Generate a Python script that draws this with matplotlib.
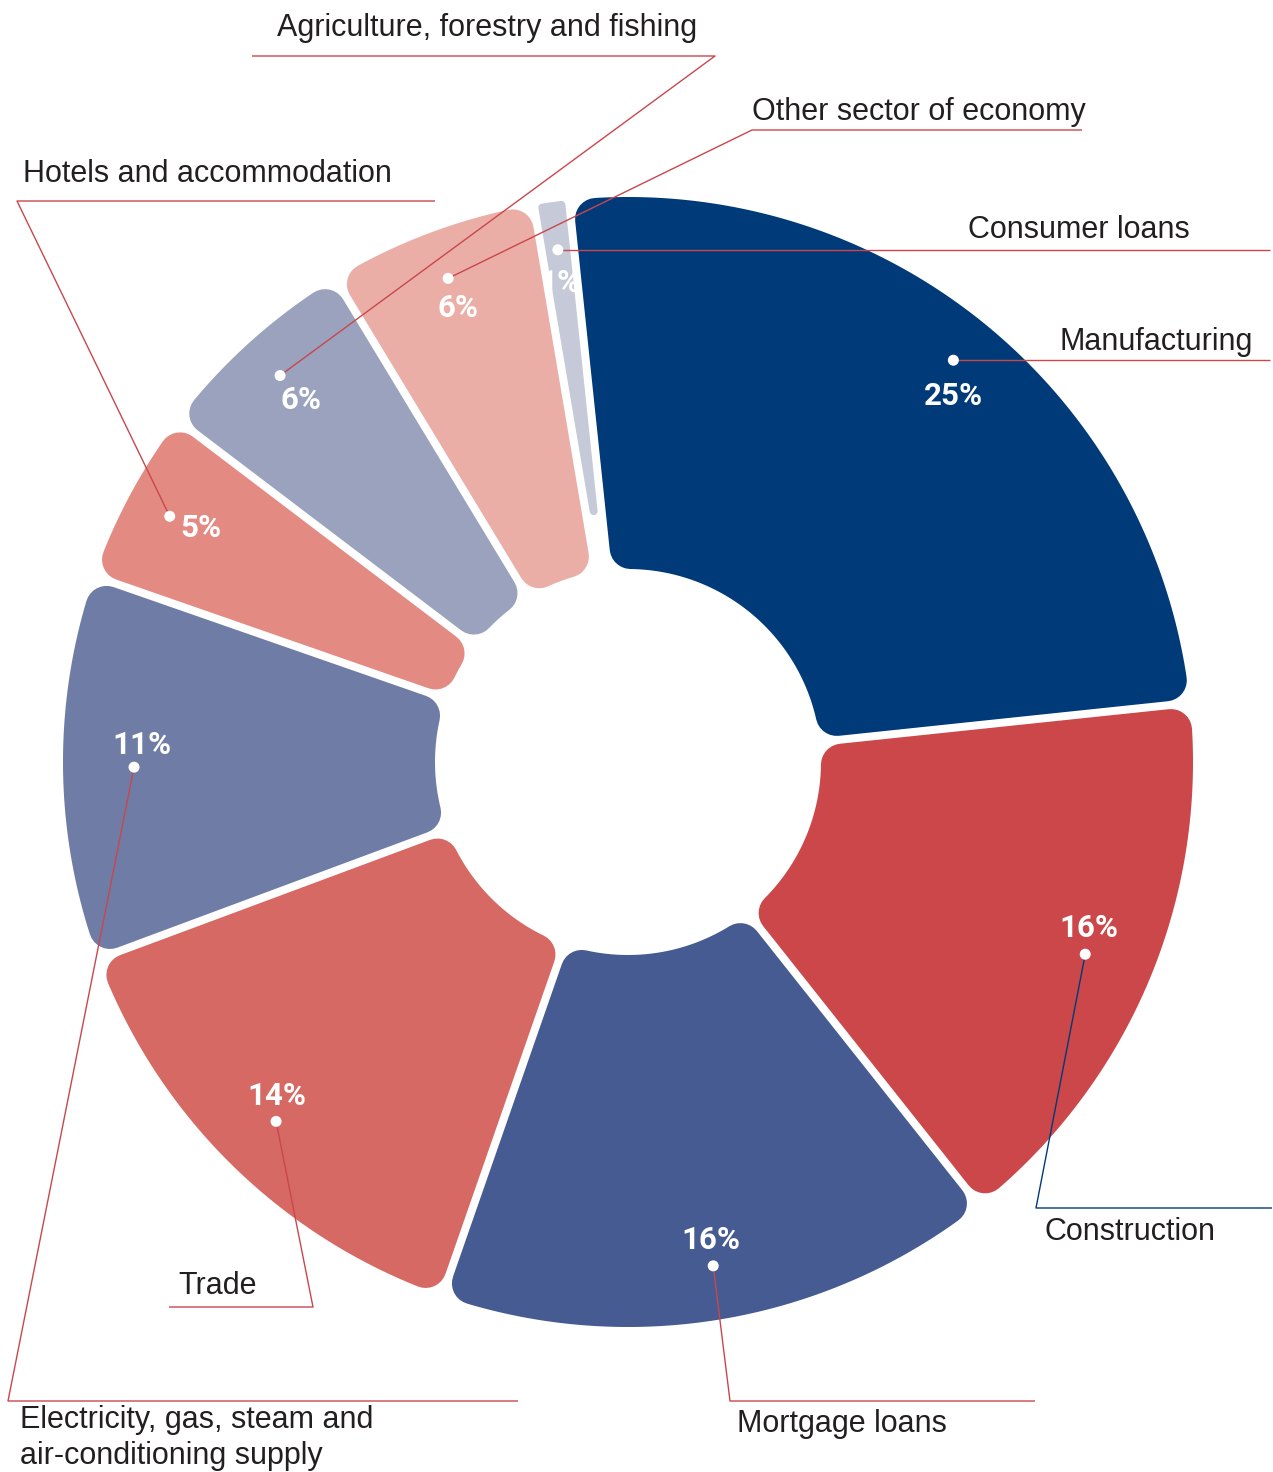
import numpy as np
import matplotlib
matplotlib.use("Agg")
import matplotlib.pyplot as plt
from matplotlib.path import Path
from matplotlib.patches import PathPatch, Circle

# ---- data -------------------------------------------------------------
categories = [
    "Manufacturing",
    "Construction",
    "Mortgage loans",
    "Trade",
    "Electricity, gas, steam and\nair-conditioning supply",
    "Hotels and accommodation",
    "Agriculture, forestry and fishing",
    "Other sector of economy",
    "Consumer loans",
]
shares = [25, 16, 16, 14, 11, 5, 6, 6, 1]
pct_labels = [f"{v}%" for v in shares]

# ---- styling ----------------------------------------------------------
colors = ["#003a78", "#cc474a", "#455b91", "#d66963", "#6f7ca6",
          "#e38a82", "#9aa2bd", "#eaaea7", "#c5c9d8"]
leader_colors = ["#c9474c", "#003a78", "#c9474c", "#c9474c", "#c9474c",
                 "#c9474c", "#c9474c", "#c9474c", "#c9474c"]
text_color = "#231f20"

W, H, DPI = 1273, 1472, 100
cx, cy = 628, 762          # ring centre (pixel units)
r_in, r_out = 193, 565     # ring radii
gap = 8                    # white gap between segments
corner = 21                # corner rounding radius
start_angle = 96           # degrees, segments run clockwise
dot_radii = [517, 496, 511, 503, 494, 520, 520, 516, 517]
PT = 72.0 / DPI            # points per pixel

# label geometry: (elbow, end of underline, text x, text baseline, ha)
# "dot" means the horizontal run starts at the dot itself
label_layout = [
    ("dot", 1270, 1253, -10, "right"),
    ((1036, 1208), (1272, 1208), 1045, 1240, "left"),
    ((730, 1401), (1035, 1401), 737, 1432, "left"),
    ((313, 1307), (169, 1307), 178, 1294, "left"),
    ((8, 1401), (518, 1401), 20, 1428, "left"),
    ((17, 201), (435, 201), 23, 182, "left"),
    ((715, 56), (252, 56), 277, 36, "left"),
    ((752, 130), (1082, 130), 752, 120, "left"),
    ("dot", 1270, 1190, -12, "right"),
]
# percentage text offset from the dot (dx, dy of text centre)
pct_offsets = [(0, 34), (4, -28), (-2, -28), (1, -27), (8, -24),
               (31, 10), (21, 22), (10, 28), (2, 31)]


def to_xy(r, t):
    return cx + r * np.cos(t), cy - r * np.sin(t)


def segment_path(hi_deg, lo_deg, rc):
    """Shrunk outline of one ring segment; stroking it with width 2*rc
    and round joins gives a segment with rounded corners."""
    h = np.radians(hi_deg - lo_deg) / 2
    m = np.radians(hi_deg + lo_deg) / 2
    d = gap / 2 + rc
    ro = r_out - rc
    ri = r_in + rc
    x0 = d / np.sin(h)
    pts = []
    phi_o = h - np.arcsin(min(d / ro, 1.0))
    for t in np.linspace(m + phi_o, m - phi_o, 120):
        pts.append(to_xy(ro, t))
    if ri > x0:
        phi_i = h - np.arcsin(d / ri)
        for t in np.linspace(m - phi_i, m + phi_i, 60):
            pts.append(to_xy(ri, t))
    else:
        pts.append(to_xy(x0, m))
    pts.append(pts[0])
    codes = [Path.MOVETO] + [Path.LINETO] * (len(pts) - 2) + [Path.CLOSEPOLY]
    return Path(pts, codes)


fig = plt.figure(figsize=(W / DPI, H / DPI), dpi=DPI)
ax = fig.add_axes([0, 0, 1, 1])
ax.set_xlim(0, W)
ax.set_ylim(H, 0)
ax.set_aspect("equal")
ax.axis("off")

total = float(sum(shares))
cum = np.concatenate([[0], np.cumsum(shares)]) / total * 360.0
r_mid = (r_in + r_out) / 2

dots = []
for i, (v, col) in enumerate(zip(shares, colors)):
    hi = start_angle - cum[i]
    lo = start_angle - cum[i + 1]
    h = np.radians(hi - lo) / 2
    rc = min(corner, max(2.0, 0.5 * (r_mid * np.sin(h) - gap / 2)))
    path = segment_path(hi, lo, rc)
    ax.add_patch(PathPatch(path, facecolor=col, edgecolor=col,
                           linewidth=2 * rc * PT, joinstyle="round",
                           zorder=2))
    mid = np.radians((hi + lo) / 2)
    dots.append(to_xy(dot_radii[i], mid))

pct_font = ["Roboto", "DejaVu Sans"]
lab_font = ["Liberation Sans", "DejaVu Sans"]

for i, cat in enumerate(categories):
    dx, dy = dots[i]
    elbow, end, tx, ty, ha = label_layout[i]
    lc = leader_colors[i]
    if elbow == "dot":
        xs, ys = [dx, end], [dy, dy]
        ty = dy + ty
    else:
        xs = [dx, elbow[0], end[0]]
        ys = [dy, elbow[1], end[1]]
    ax.plot(xs, ys, color=lc, lw=1.0, zorder=3, solid_capstyle="butt")
    ax.add_patch(Circle((dx, dy), 5.5, facecolor="white", edgecolor="none",
                        zorder=4))
    for k, line in enumerate(cat.split("\n")):
        ax.text(tx, ty + k * 36, line, ha=ha, va="baseline",
                fontsize=22, color=text_color, family=lab_font, zorder=5)
    ox, oy = pct_offsets[i]
    ax.text(dx + ox, dy + oy + 11, pct_labels[i], ha="center",
            va="baseline", fontsize=22.5, fontweight="bold", color="white",
            family=pct_font, zorder=5)

fig.savefig("out.png", dpi=DPI, facecolor="white")
